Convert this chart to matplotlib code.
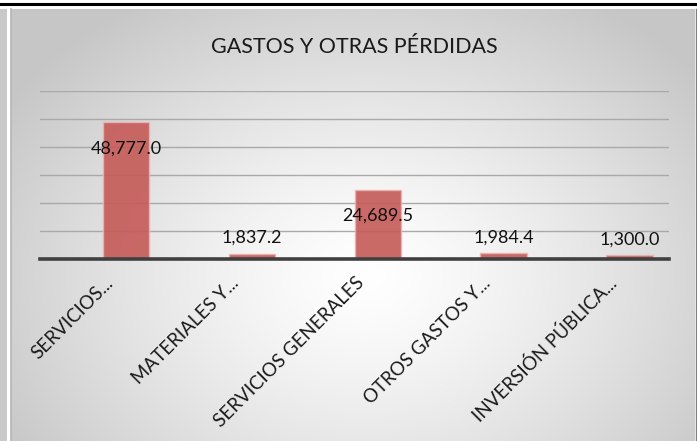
import numpy as np
import matplotlib
matplotlib.use("Agg")
import matplotlib.pyplot as plt
from matplotlib.patches import Rectangle
from matplotlib.lines import Line2D

plt.rcParams["font.family"] = ["Lato", "DejaVu Sans"]

# data
categories = ["SERVICIOS...", "MATERIALES Y...", "SERVICIOS GENERALES",
              "OTROS GASTOS Y...", "INVERSIÓN PÚBLICA..."]
values = [48777.0, 1837.2, 24689.5, 1984.4, 1300.0]
title = "GASTOS Y OTRAS PÉRDIDAS"

W, H = 697, 441
fig = plt.figure(figsize=(W / 100, H / 100), dpi=100)
fig.patch.set_facecolor("white")

# radial grey background of the chart area
bg = fig.add_axes([11 / W, 0, 684 / W, 1 - 9 / H], zorder=0)
yy, xx = np.mgrid[0:1:300j, 0:1:400j]
r = np.sqrt(((xx - 0.52) / 0.62) ** 2 + ((yy - 0.62) / 0.75) ** 2)
shade = 1.0 - 0.22 * np.clip(r, 0, 1) ** 1.3
bg.imshow(np.dstack([shade] * 3), aspect="auto", origin="upper",
          extent=[0, 1, 0, 1], interpolation="bilinear")
bg.set_axis_off()

# frame decorations
fig.add_artist(Rectangle((0, 0), 7 / W, 1 - 9 / H, transform=fig.transFigure,
                         facecolor="#c9c9c9", edgecolor="none", zorder=1))
fig.add_artist(Line2D([10.5 / W, 10.5 / W], [0, 1 - 9 / H], transform=fig.transFigure,
                      color="#b5b5b5", lw=1.2, zorder=2))
fig.add_artist(Line2D([0, 1], [1 - 4 / H, 1 - 4 / H], transform=fig.transFigure,
                      color="black", lw=2.2, zorder=2))
fig.add_artist(Line2D([695.5 / W, 695.5 / W], [0, 1 - 9 / H], transform=fig.transFigure,
                      color="#7f7f7f", lw=1, zorder=2))

ax = fig.add_axes([40 / W, 1 - 259 / H, 629 / W, 168 / H], zorder=3)
ax.patch.set_alpha(0)
x = np.arange(len(values))
bars = ax.bar(x, values, width=0.37, align="edge", color="#c55a57",
              edgecolor="#e9b3b1", linewidth=1, alpha=0.9, zorder=3)

ax.set_xlim(-0.5, len(values) - 0.5)
ax.set_ylim(0, 60000)
ax.set_yticks(np.arange(0, 60001, 10000))
ax.yaxis.grid(True, color="#a9a9a9", lw=1)
ax.set_axisbelow(True)
ax.tick_params(axis="y", length=0, labelleft=False)
for s in ["top", "right", "left"]:
    ax.spines[s].set_visible(False)
ax.spines["bottom"].set_color("#404040")
ax.spines["bottom"].set_linewidth(2.6)
ax.spines["bottom"].set_zorder(5)

ax.set_xticks(x + 0.01)
ax.set_xticklabels(categories, rotation=45, ha="right", va="top",
                   rotation_mode="anchor", fontsize=13.5, color="#1a1a1a")
ax.tick_params(axis="x", length=0, pad=11)

# data labels: inside the tall bars, above the short ones
for b, v in zip(bars, values):
    cx = b.get_x() + b.get_width() / 2
    off = -26 if v > 10000 else 16
    ax.annotate(f"{v:,.1f}", (cx, v), xytext=(0, off), textcoords="offset pixels",
                ha="center", va="center", fontsize=13, color="#111111", zorder=6)

fig.text(0.508, 1 - 47 / H, title, ha="center", va="center", fontsize=15.5,
         color="#1a1a1a", zorder=6)

fig.savefig("out.png", dpi=100)
